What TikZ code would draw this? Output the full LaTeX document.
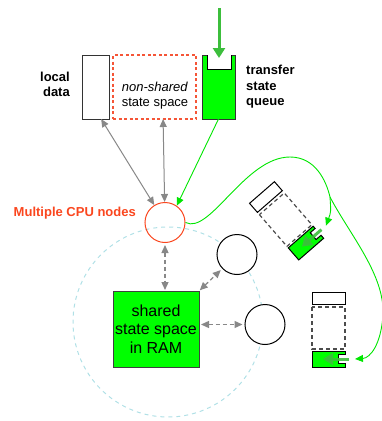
\documentclass[tikz,border=0pt]{standalone}
\usepackage{fontspec}
\setmainfont{Liberation Sans}
\usetikzlibrary{arrows.meta,calc}
\definecolor{cpured}{RGB}{250,70,30}
\definecolor{dashred}{RGB}{245,85,55}
\definecolor{qgreen}{RGB}{0,255,0}
\definecolor{linkgreen}{RGB}{0,230,0}
\definecolor{pushgreen}{RGB}{60,190,60}
\definecolor{linkgray}{RGB}{136,136,136}
\definecolor{ringblue}{RGB}{176,224,230}

\begin{document}
\begin{tikzpicture}[x=1pt, y=-1pt,
        lbl/.style={font=\fontsize{13}{15}\selectfont\bfseries, inner sep=0},
        memo/.style={draw=black!80, line width=1pt, inner sep=0, outer sep=0},
        cpunode/.style={circle, draw=black, line width=1pt, minimum size=40pt, inner sep=0, fill=white},
        link/.style={linkgray, line width=1pt, >={Triangle[length=8pt,width=7pt]}, <->},
        synclink/.style={link, line width=1.3pt, dash pattern=on 4pt off 3pt},
        feedlink/.style={linkgreen, line width=0.9pt, >={Triangle[length=8pt,width=7pt]}, ->},
        push/.style={pushgreen, line width=3pt, >={Triangle[length=10pt,width=12pt]}, ->},
        qdash/.style={draw=black!70, line width=1.2pt, dash pattern=on 4pt off 3pt}]
    \useasboundingbox (0,0) rectangle (382,421);
    \def\qw{16.5}

    % node ring
    \draw[ringblue, line width=1pt, dash pattern=on 4pt off 4pt] (168,322) circle[radius=95pt];

    % per-node memory
    \node[memo, minimum width=27pt, minimum height=64pt] (localbox) at (95.5,87) {};
    \node[memo, draw=dashred, line width=1.2pt, dash pattern=on 3pt off 2.5pt, minimum width=83pt, minimum height=64pt] (nonshared) at (154.5,87) {};
    \node[memo, fill=qgreen, minimum width=33pt, minimum height=64pt] (tsq) at (218.5,87) {};
    \fill[white] ($(tsq.north west)+(5.5,-1)$) rectangle ($(tsq.north east)+(-4.5,13.5)$);
    \draw[line width=1pt] ($(tsq.north west)+(5,0)$) -- ++(0,14) -- ++(24,0) -- ++(0,-14);

    \node[lbl, align=right, anchor=east] (localtxt) at (70,84.75) {local\\data};
    \node[font=\fontsize{13}{15}\selectfont, align=center, inner sep=0] (nstext) at (155,96) {\textit{non-shared}\\state space};
    \node[lbl, font=\fontsize{13}{15.5}\selectfont\bfseries, align=left, anchor=west] (tsqtxt) at (246,87) {transfer\\state\\queue};

    \coordinate (feed) at (219,8);
    \draw[push] (feed) -- ($(tsq.north)+(0.5,3)$);

    % CPU nodes and shared memory
    \node[cpunode, draw=cpured, fill=none] (cpu) at (165,222.5) {};
    \node[cpunode] (cpub) at (237,254.5) {};
    \node[cpunode] (cpuc) at (265,324.5) {};
    \node[memo, draw=black!75, fill=qgreen, minimum width=86pt, minimum height=76pt, align=center,
        font=\fontsize{16}{18.5}\selectfont] (shared) at (156,329) {shared\\state space\\in RAM};
    \node[lbl, text=cpured, anchor=base east] (cputxt) at (136,216) {Multiple CPU nodes};

    \draw[link] (localbox.-80) -- (cpu);
    \draw[link] (nonshared.-75) -- (cpu);
    \draw[feedlink] (tsq.south) -- (cpu.55);

    \draw[synclink, shorten <=2pt, shorten >=1pt] (cpu) -- (cpu |- shared.north);
    \draw[synclink, shorten <=1pt, shorten >=2pt] (shared.north east) -- (cpub);
    \draw[synclink, shorten <=2pt, shorten >=2pt] (shared.east |- cpuc) -- (cpuc);

    % queues of the remote nodes
    \foreach \qx/\qy/\qr/\qn in {262/192.5/41/a, 328.5/292/0/b} {
        \begin{scope}[shift={(\qx,\qy)}, rotate=\qr]
            \draw[line width=1pt, fill=white] (-\qw,0) rectangle (\qw,12);
            \draw[qdash] (-\qw,15) rectangle (\qw,57);
            \draw[line width=1pt, fill=qgreen] (-\qw,59) -- (\qw,59) -- (\qw,62) -- (10,62) -- (10,71) -- (\qw,71) -- (\qw,75) -- (-\qw,75) -- cycle;
            \draw[push, opacity=0.9] (20.5,67) -- (-5.5,67);
            \coordinate (q\qn) at (26.5,67);
        \end{scope}
    }

    \coordinate (split) at (330,197);
    \draw[linkgreen, line width=0.9pt] (cpu.east) .. controls (210,235) and (245,157) .. (290,157)
        .. controls (315,157) and (326,180) .. (split);
    \draw[feedlink] (split) .. controls (331,212) .. (qa);
    \draw[feedlink] (split) .. controls (350,235) and (385,275) .. (383,315)
        .. controls (381,345) and (370,358) .. (qb);
\end{tikzpicture}
\end{document}
